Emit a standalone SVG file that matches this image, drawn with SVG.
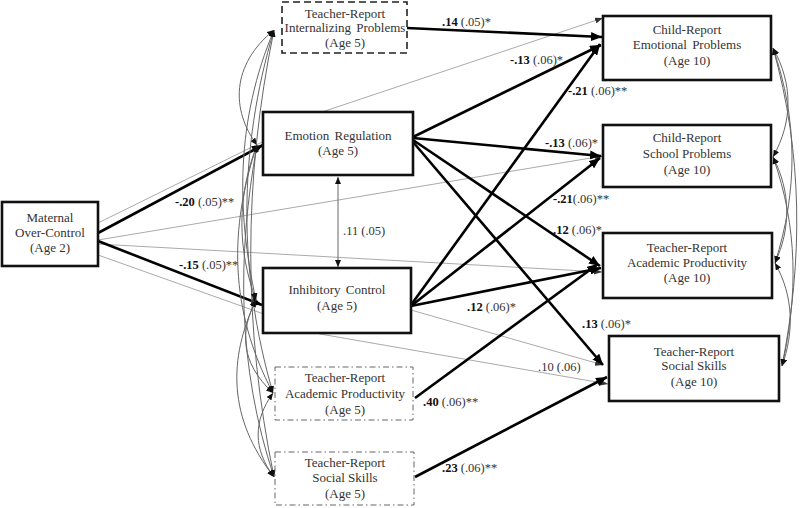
<svg xmlns="http://www.w3.org/2000/svg" width="800" height="508" viewBox="0 0 800 508">
<defs>
<style>
.t{font-family:"Liberation Serif","Times New Roman",serif;font-size:13px;fill:#333;text-anchor:middle}
.l{font-family:"Liberation Serif","Times New Roman",serif;font-size:12.5px;fill:#333}
.l tspan.b{font-weight:bold;fill:#111}
.box{fill:#fff;stroke:#111;stroke-width:2.6}
.dash{fill:#fff;stroke:#222;stroke-width:1.6;stroke-dasharray:7 4}
.dd{fill:#fff;stroke:#666;stroke-width:1;stroke-dasharray:6 3 1.5 3}
.k{fill:none;stroke:#000;stroke-width:2.6;marker-end:url(#ah)}
.g{fill:none;stroke:#aaa;stroke-width:1;marker-end:url(#ag)}
.c{fill:none;stroke:#666;stroke-width:1;marker-start:url(#as);marker-end:url(#as)}
</style>
<marker id="ah" markerUnits="userSpaceOnUse" markerWidth="11" markerHeight="9" refX="11" refY="4.5" orient="auto"><path d="M0,0 L11,4.5 L0,9 z" fill="#000"/></marker>
<marker id="ag" markerUnits="userSpaceOnUse" markerWidth="8" markerHeight="6" refX="8" refY="3" orient="auto"><path d="M0,0 L8,3 L0,6 z" fill="#333"/></marker>
<marker id="as" markerUnits="userSpaceOnUse" markerWidth="7" markerHeight="6" refX="7" refY="3" orient="auto-start-reverse"><path d="M0,0 L7,3 L0,6 z" fill="#111"/></marker>
</defs>

<g id="connectors">
<polyline class="g" points="98,223 325,111 603,18"/>
<line class="g" x1="98" y1="240" x2="603" y2="156"/>
<line class="g" x1="98" y1="244" x2="602" y2="272"/>
<polyline class="g" points="98,255 320,334 608,384"/>
<line class="g" x1="411" y1="310" x2="603" y2="365"/>
<line class="k" x1="98" y1="233" x2="263" y2="145"/>
<line class="k" x1="98" y1="241" x2="262" y2="305"/>
<line class="k" x1="407" y1="28" x2="602" y2="37"/>
<line class="k" x1="413" y1="137" x2="601" y2="45"/>
<line class="k" x1="413" y1="138" x2="601" y2="156"/>
<line class="k" x1="413" y1="140" x2="600" y2="266"/>
<line class="k" x1="413" y1="142" x2="603" y2="365"/>
<line class="k" x1="411" y1="305" x2="600" y2="44"/>
<line class="k" x1="411" y1="306" x2="600" y2="158"/>
<line class="k" x1="411" y1="306" x2="601" y2="268"/>
<line class="k" x1="415" y1="398" x2="598" y2="264"/>
<line class="k" x1="415" y1="477" x2="607" y2="377"/>
<line class="c" x1="338" y1="177" x2="338" y2="267"/>
<path class="c" d="M274,30 C231,65 231,110 257,145"/>
<path class="c" d="M274,30 C236,120 236,210 256,300"/>
<path class="c" d="M274,30 C238,150 238,273 273,393"/>
<path class="c" d="M274,30 C243,180 243,327 274,477"/>
<path class="c" d="M257,145 C237,196 237,249 256,300"/>
<path class="c" d="M257,145 C229,228 229,310 273,393"/>
<path class="c" d="M257,145 C237,255 237,366 274,477"/>
<path class="c" d="M256,300 C240,331 240,362 273,393"/>
<path class="c" d="M256,300 C228,359 228,418 274,477"/>
<path class="c" d="M273,393 C253,421 253,449 274,477"/>
<path class="c" d="M773,48 C793,84 793,121 773,157"/>
<path class="c" d="M773,48 C798,120 798,191 775,263"/>
<path class="c" d="M773,48 C803,154 803,260 782,366"/>
<path class="c" d="M773,157 C791,192 791,228 775,263"/>
<path class="c" d="M773,157 C798,227 798,296 782,366"/>
<path class="c" d="M775,263 C794,297 794,332 782,366"/>
</g>

<g id="labels">
<text class="l" x="175" y="206"><tspan class="b">-.20</tspan> (.05)**</text>
<text class="l" x="179" y="269"><tspan class="b">-.15</tspan> (.05)**</text>
<text class="l" x="343" y="235">.11 (.05)</text>
<text class="l" x="442" y="26"><tspan class="b">.14</tspan> (.05)*</text>
<text class="l" x="510" y="64"><tspan class="b">-.13</tspan> (.06)*</text>
<text class="l" x="568" y="95"><tspan class="b">-.21</tspan> (.06)**</text>
<text class="l" x="545" y="147"><tspan class="b">-.13</tspan> (.06)*</text>
<text class="l" x="553" y="203"><tspan class="b">-.21</tspan>(.06)**</text>
<text class="l" x="553" y="234"><tspan class="b">.12</tspan> (.06)*</text>
<text class="l" x="467" y="311"><tspan class="b">.12</tspan> (.06)*</text>
<text class="l" x="582" y="328"><tspan class="b">.13</tspan> (.06)*</text>
<text class="l" x="538" y="371">.10 (.06)</text>
<text class="l" x="423" y="406"><tspan class="b">.40</tspan> (.06)**</text>
<text class="l" x="442" y="472"><tspan class="b">.23</tspan> (.06)**</text>
</g>

<g id="moc">
<rect class="box" x="2" y="202" width="96" height="64"/>
<text class="t" x="50" y="222">Maternal</text>
<text class="t" x="50" y="237">Over-Control</text>
<text class="t" x="50" y="252">(Age 2)</text>
</g>
<g id="trip5">
<rect class="dash" x="282" y="2" width="125" height="51"/>
<text class="t" x="345" y="18">Teacher-Report</text>
<text class="t" x="345" y="32" word-spacing="2">Internalizing Problems</text>
<text class="t" x="345" y="47">(Age 5)</text>
</g>
<g id="er">
<rect class="box" x="263" y="112" width="150" height="63"/>
<text class="t" x="338" y="140" word-spacing="2">Emotion Regulation</text>
<text class="t" x="338" y="155">(Age 5)</text>
</g>
<g id="ic">
<rect class="box" x="263" y="268" width="148" height="65"/>
<text class="t" x="337" y="294" word-spacing="2">Inhibitory Control</text>
<text class="t" x="337" y="310">(Age 5)</text>
</g>
<g id="trap5">
<rect class="dd" x="275" y="367" width="138" height="53"/>
<text class="t" x="345" y="382">Teacher-Report</text>
<text class="t" x="345" y="398">Academic Productivity</text>
<text class="t" x="345" y="414">(Age 5)</text>
</g>
<g id="trss5">
<rect class="dd" x="275" y="452" width="139" height="53"/>
<text class="t" x="345" y="467">Teacher-Report</text>
<text class="t" x="345" y="482">Social Skills</text>
<text class="t" x="345" y="498">(Age 5)</text>
</g>
<g id="crep">
<rect class="box" x="603" y="16" width="168" height="64"/>
<text class="t" x="687" y="34">Child-Report</text>
<text class="t" x="687" y="49" word-spacing="2">Emotional Problems</text>
<text class="t" x="687" y="65">(Age 10)</text>
</g>
<g id="crsp">
<rect class="box" x="603" y="125" width="168" height="62"/>
<text class="t" x="687" y="142">Child-Report</text>
<text class="t" x="687" y="158">School Problems</text>
<text class="t" x="687" y="174">(Age 10)</text>
</g>
<g id="trap10">
<rect class="box" x="603" y="233" width="169" height="65"/>
<text class="t" x="687" y="252">Teacher-Report</text>
<text class="t" x="687" y="267">Academic Productivity</text>
<text class="t" x="687" y="282">(Age 10)</text>
</g>
<g id="trss10">
<rect class="box" x="609" y="336" width="170" height="65"/>
<text class="t" x="694" y="356">Teacher-Report</text>
<text class="t" x="694" y="370">Social Skills</text>
<text class="t" x="694" y="386">(Age 10)</text>
</g>
</svg>
